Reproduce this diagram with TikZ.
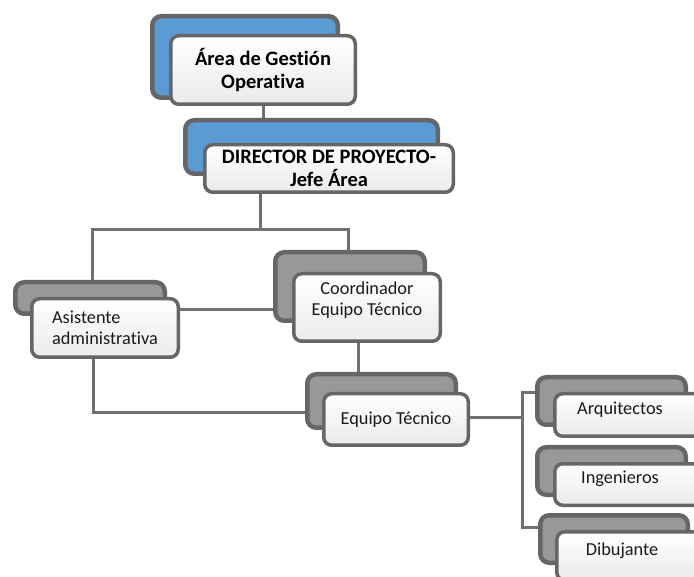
\documentclass[tikz,border=0pt]{standalone}
\usepackage{fontspec}
\setmainfont{Carlito}[Ligatures=NoCommon, RawFeature={-liga;-clig;-calt;-dlig}]
\usetikzlibrary{backgrounds,shadows}
\definecolor{edge}{RGB}{102,102,102}
\definecolor{linegray}{RGB}{112,112,112}
\definecolor{boxblue}{RGB}{91,155,213}
\definecolor{boxgray}{RGB}{152,152,152}
\definecolor{ink}{RGB}{26,26,26}
\tikzset{
  backbox/.style={draw=edge, line width=4.5pt, rounded corners=9pt, inner sep=0pt,
    drop shadow={shadow xshift=0.5pt, shadow yshift=-2pt, fill=boxblue!45, opacity=0.45}},
  backblue/.style={backbox, fill=boxblue},
  backgray/.style={backbox, fill=boxgray},
  frontbox/.style={draw=edge, line width=3.5pt, rounded corners=8pt, inner sep=0pt,
    top color=white, bottom color=black!8, align=center, text=ink,
    font=\fontsize{18.3}{21.5}\selectfont},
  titlebox/.style={frontbox, text=black, font=\fontsize{20.5}{23.5}\selectfont\bfseries},
  sidebox/.style={frontbox, text depth=14pt, execute at begin node=\hspace*{-28pt}},
  wire/.style={draw=linegray, line width=3pt},
}
\begin{document}
\begin{tikzpicture}[x=1pt,y=-1pt]
  \useasboundingbox (0,0) rectangle (694,577);
  \clip (0,0) rectangle (694,577);

  % top of the hierarchy
  \node[backblue, minimum width=185.5, minimum height=81.5] (areaB) at (245,57) {};
  \node[titlebox, minimum width=184.5, minimum height=68.5] (areaF) at (263,70)
    {Área de Gestión\\Operativa};
  \node[backblue, minimum width=252.5, minimum height=53.5] (dirB) at (311.5,147) {};
  \node[titlebox, minimum width=248.5, minimum height=47.5] (dirF) at (329,168.5)
    {DIRECTOR DE PROYECTO-\\Jefe Área};

  % second level
  \node[backgray, minimum width=149.5, minimum height=68.5] (cooB) at (350,286.5) {};
  \node[frontbox, minimum width=146.5, minimum height=67.5, text depth=18pt] (cooF) at (367,307.5)
    {Coordinador\\Equipo Técnico};
  \node[backgray, minimum width=149.5, minimum height=31.5] (asiB) at (90,298) {};
  \node[frontbox, minimum width=146.5, minimum height=58.5, align=left] (asiF) at (105,328)
    {Asistente\\administrativa};

  % technical team
  \node[backgray, minimum width=148.5, minimum height=53.5] (eqB) at (381.5,401) {};
  \node[frontbox, minimum width=144.5, minimum height=51.5] (eqF) at (396,419.5)
    {Equipo Técnico};

  % team members
  \node[backgray, minimum width=148.5, minimum height=47.5] (arqB) at (611.5,401) {};
  \node[sidebox, minimum width=158.5, minimum height=42.5] (arqF) at (634,415) {Arquitectos};
  \node[backgray, minimum width=148.5, minimum height=47.5] (ingB) at (611.5,471) {};
  \node[sidebox, minimum width=158.5, minimum height=41.5] (ingF) at (634,484.5) {Ingenieros};
  \node[backgray, minimum width=147.5, minimum height=47.5] (dibB) at (614,539) {};
  \node[sidebox, minimum width=158.5, minimum height=48.5] (dibF) at (636,556) {Dibujante};

  % connector junctions
  \coordinate (j1) at (260,230);
  \coordinate (jl) at (92,230);
  \coordinate (jr) at (348,230);
  \coordinate (h1) at (226,310);
  \coordinate (h2) at (93,413);
  \coordinate (v1) at (358,357);
  \coordinate (brT) at (522,393);
  \coordinate (brM) at (522,418);
  \coordinate (brB) at (522,527);

  \begin{scope}[on background layer]
    \fill[white] (0,0) rectangle (694,577);
    \draw[wire] (areaF.south) -- (areaF.south |- dirB.north);
    \draw[wire] (dirF.south -| j1) -- (j1);
    \draw[wire] (asiB.north -| jl) -- (jl) -- (jr) -- (cooB.north -| jr);
    \draw[wire] (asiF.east |- h1) -- (cooB.west |- h1);
    \draw[wire] (asiF.south -| h2) -- (h2) -- (eqB.west |- h2);
    \draw[wire] (cooF.south -| v1) -- (eqB.north -| v1);
    \draw[wire] (eqF.east |- brM) -- (brM);
    \draw[wire] (arqB.west |- brT) -- (brT) -- (brB) -- (dibB.west |- brB);
  \end{scope}
\end{tikzpicture}
\end{document}
